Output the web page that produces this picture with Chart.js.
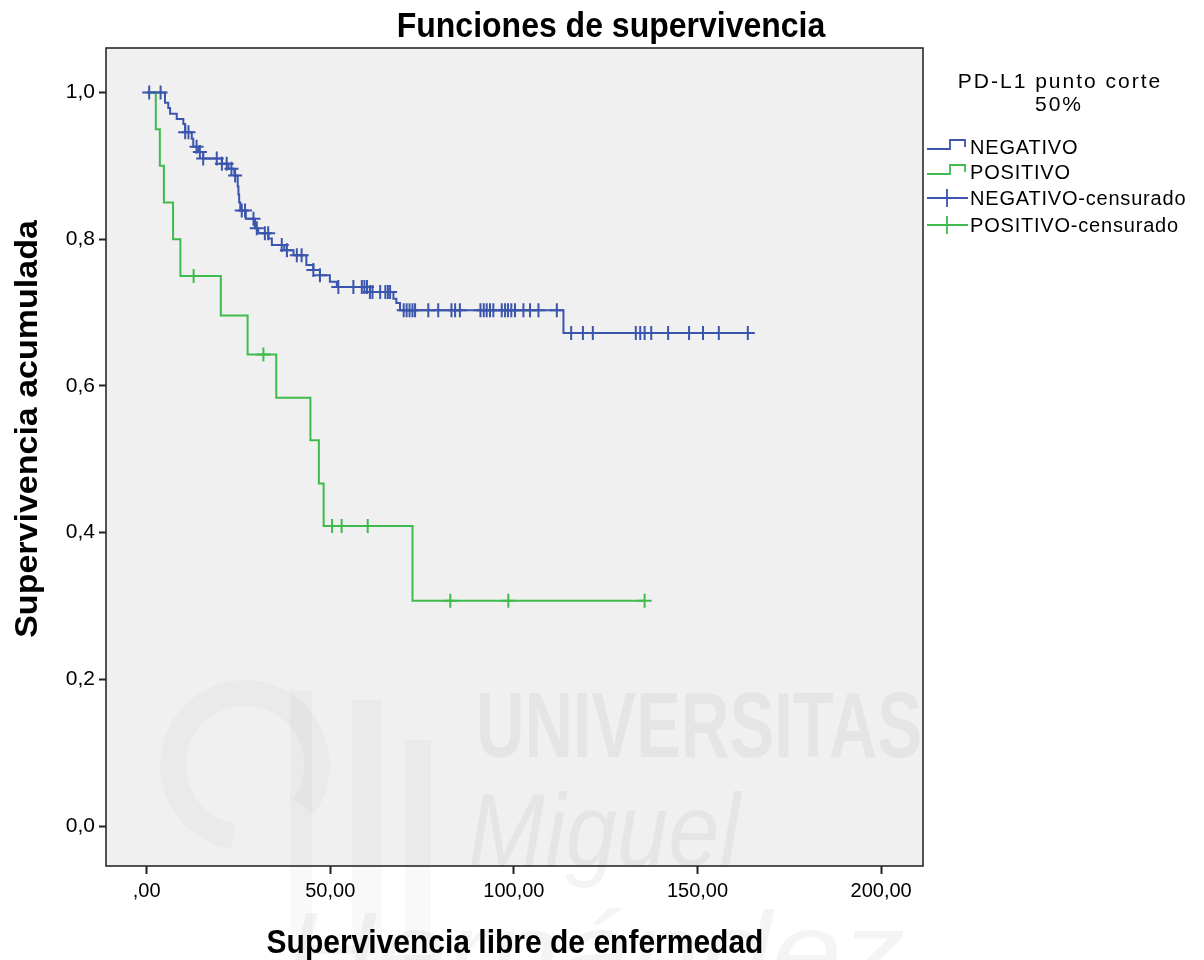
<!DOCTYPE html>
<html>
<head>
<meta charset="utf-8">
<script src="https://cdn.jsdelivr.net/npm/chart.js@4.4.1/dist/chart.umd.min.js"></script>
<style>
  html, body { margin: 0; padding: 0; background: #fff; }
  #wrap { width: 1204px; height: 960px; }
</style>
</head>
<body>
<div id="wrap"><canvas id="kmChart" width="1204" height="960"></canvas></div>
<script>
// Kaplan-Meier, grupo NEGATIVO: tiempos de evento y supervivencia tras cada evento
const negEventTimes = [5.0, 5.9, 6.4, 8.2, 10.0, 10.5, 12.3, 12.7, 14.1, 15.4, 20.5, 22.3, 23.9, 24.8, 25.0, 25.2, 25.5,
  27.0, 29.5, 30.4, 33.2, 34.1, 37.5, 40.0, 43.5, 45.4, 47.2, 49.9, 51.8, 60.8, 67.2, 68.0, 69.0, 113.5];
const negEventSurv = [0.986, 0.979, 0.971, 0.964, 0.957, 0.946, 0.937, 0.926, 0.919, 0.910, 0.903, 0.896, 0.887, 0.872, 0.861, 0.850, 0.839,
  0.828, 0.815, 0.808, 0.801, 0.792, 0.785, 0.778, 0.765, 0.758, 0.751, 0.742, 0.735, 0.728, 0.719, 0.713, 0.703, 0.672];
// casos censurados (NEGATIVO)
const negCensorTimes = [0.7, 3.8, 10.5, 11.4, 13.6, 14.5, 15.4, 19.1, 20.5, 21.8, 23.1, 24.1, 25.9, 26.8, 29.1, 30.0,
  32.2, 33.1, 36.8, 38.2, 40.9, 42.2, 45.4, 47.2, 52.2, 56.3, 58.6, 59.3, 60.0, 60.8, 61.5, 63.6, 65.0, 65.7, 66.3,
  70.0, 70.8, 71.6, 72.4, 73.1, 76.7, 79.4, 83.0, 84.0, 85.3, 90.9, 91.8, 92.6, 93.5, 94.4, 96.7, 97.6, 98.4, 99.3,
  100.3, 102.6, 104.4, 106.7, 111.7, 115.6, 118.8, 121.5, 133.2, 134.4, 135.6, 137.4, 142.0, 147.7, 151.5, 155.8, 163.7];

// grupo POSITIVO
const posEventTimes = [2.5, 3.6, 4.7, 7.2, 9.2, 20.2, 27.5, 35.3, 44.6, 46.9, 48.2, 72.4];
const posEventSurv = [0.95, 0.90, 0.85, 0.80, 0.75, 0.696, 0.643, 0.584, 0.526, 0.467, 0.409, 0.307];
const posCensorTimes = [12.8, 31.8, 50.5, 53.1, 60.2, 82.7, 98.5, 135.6];

const xTickValues = [0, 50, 100, 150, 200];
const xTickLabels = [',00', '50,00', '100,00', '150,00', '200,00'];
const yTickValues = [0, 0.2, 0.4, 0.6, 0.8, 1.0];
const yTickLabels = ['0,0', '0,2', '0,4', '0,6', '0,8', '1,0'];

const groupNames = ['NEGATIVO', 'POSITIVO'];
const BLUE = '#3b55ad';
const GREEN = '#3fbb4e';
const FONT = '"Liberation Sans", Arial, sans-serif';

// nivel de la curva en el tiempo t
function survivalAt(times, surv, t) {
    let s = 1;
    times.forEach((et, i) => { if (et <= t) s = surv[i]; });
    return s;
}

function stepPoints(times, surv, end) {
    const pts = [{ x: 0, y: 1 }];
    times.forEach((t, i) => pts.push({ x: t, y: surv[i] }));
    pts.push({ x: end, y: surv[surv.length - 1] });
    return pts;
}

function censorPoints(censors, times, surv) {
    return censors.map(t => ({ x: t, y: survivalAt(times, surv, t) }));
}

function fitText(ctx, text, x, y, width, font) {
    ctx.save();
    ctx.font = font;
    const w = ctx.measureText(text).width;
    ctx.translate(x, y);
    ctx.scale(width / w, 1);
    ctx.textAlign = 'left';
    ctx.textBaseline = 'alphabetic';
    ctx.fillText(text, 0, 0);
    ctx.restore();
}

// fondo gris del area del grafico, marca de agua y marco
const plotBackground = {
    id: 'plotBackground',
    beforeDraw(chart) {
        const { ctx, chartArea: a } = chart;
        ctx.save();
        ctx.fillStyle = '#fff';
        ctx.fillRect(0, 0, chart.width, chart.height);
        ctx.fillStyle = '#f0f0f0';
        ctx.fillRect(a.left, a.top, a.right - a.left, a.bottom - a.top);

        // marca de agua
        ctx.fillStyle = 'rgba(0,0,0,0.045)';
        fitText(ctx, 'UNIVERSITAS', 476, 757, 446, 'bold 92px ' + FONT);
        fitText(ctx, 'Miguel', 468, 866, 272, 'italic 104px ' + FONT);
        fitText(ctx, 'Hernández', 285, 990, 620, 'italic 112px ' + FONT);
        ctx.fillStyle = 'rgba(0,0,0,0.025)';
        ctx.strokeStyle = 'rgba(0,0,0,0.025)';
        ctx.lineWidth = 26;
        ctx.beginPath();
        ctx.arc(245, 765, 72, Math.PI * 0.55, Math.PI * 2.2);
        ctx.stroke();
        ctx.fillRect(290, 690, 22, 270);
        ctx.fillRect(352, 700, 30, 260);
        ctx.fillRect(405, 740, 26, 220);
        ctx.restore();
    },
    beforeDatasetsDraw(chart) {
        const { ctx, chartArea: a } = chart;
        ctx.save();
        ctx.strokeStyle = '#2a2a2a';
        ctx.lineWidth = 1.6;
        ctx.strokeRect(a.left, a.top, a.right - a.left, a.bottom - a.top);
        ctx.restore();
    }
};

// titulos y leyenda
const annotations = {
    id: 'annotations',
    afterDraw(chart) {
        const { ctx } = chart;
        ctx.save();
        ctx.fillStyle = '#000';
        ctx.textBaseline = 'alphabetic';
        ctx.textAlign = 'center';

        ctx.save();
        ctx.translate(611, 37);
        ctx.scale(1, 1.08);
        ctx.font = 'bold 32px ' + FONT;
        ctx.fillText('Funciones de supervivencia', 0, 0);
        ctx.restore();

        ctx.save();
        ctx.translate(515, 953);
        ctx.scale(1, 1.08);
        ctx.font = 'bold 30px ' + FONT;
        ctx.fillText('Supervivencia libre de enfermedad', 0, 0);
        ctx.restore();

        ctx.save();
        ctx.translate(37, 429);
        ctx.rotate(-Math.PI / 2);
        ctx.scale(1, 0.9);
        ctx.font = 'bold 34px ' + FONT;
        ctx.fillText('Supervivencia acumulada', 0, 0);
        ctx.restore();

        // leyenda
        ctx.font = '21px ' + FONT;
        ctx.letterSpacing = '2px';
        ctx.fillText('PD-L1 punto corte', 1060, 88);
        ctx.fillText('50%', 1059, 111);

        const colors = [BLUE, GREEN];
        const rows = [147, 172, 198, 225];
        const labels = [groupNames[0], groupNames[1], groupNames[0] + '-censurado', groupNames[1] + '-censurado'];
        ctx.textAlign = 'left';
        ctx.textBaseline = 'middle';
        ctx.font = '20px ' + FONT;
        ctx.letterSpacing = '0.8px';
        ctx.lineWidth = 1.8;
        rows.forEach((r, i) => {
            const c = colors[i % 2];
            ctx.strokeStyle = c;
            ctx.beginPath();
            if (i < 2) {
                ctx.moveTo(927, r + 2);
                ctx.lineTo(950, r + 2);
                ctx.lineTo(950, r - 7);
                ctx.lineTo(965, r - 7);
                ctx.lineTo(965, r);
            } else {
                ctx.moveTo(927, r);
                ctx.lineTo(968, r);
                ctx.moveTo(947, r - 9);
                ctx.lineTo(947, r + 9);
            }
            ctx.stroke();
            ctx.fillStyle = '#000';
            ctx.fillText(labels[i], 970, r + 1);
        });
        ctx.restore();
    }
};

const tickFont = { family: FONT, size: 20 };

const ctx = document.getElementById('kmChart').getContext('2d');
const kmChart = new Chart(ctx, {
    type: 'scatter',
    data: {
        datasets: [
            {
                label: groupNames[0],
                data: stepPoints(negEventTimes, negEventSurv, negCensorTimes[negCensorTimes.length - 1]),
                showLine: true,
                stepped: 'before',
                borderColor: BLUE,
                borderWidth: 2,
                pointRadius: 0,
                fill: false
            },
            {
                label: groupNames[1],
                data: stepPoints(posEventTimes, posEventSurv, posCensorTimes[posCensorTimes.length - 1]),
                showLine: true,
                stepped: 'before',
                borderColor: GREEN,
                borderWidth: 2,
                pointRadius: 0,
                fill: false
            },
            {
                label: groupNames[0] + '-censurado',
                data: censorPoints(negCensorTimes, negEventTimes, negEventSurv),
                showLine: false,
                pointStyle: 'cross',
                pointRadius: 7,
                borderColor: BLUE,
                borderWidth: 2
            },
            {
                label: groupNames[1] + '-censurado',
                data: censorPoints(posCensorTimes, posEventTimes, posEventSurv),
                showLine: false,
                pointStyle: 'cross',
                pointRadius: 7,
                borderColor: GREEN,
                borderWidth: 2
            }
        ]
    },
    options: {
        responsive: false,
        animation: false,
        devicePixelRatio: 1,
        layout: { padding: { top: 48, right: 281, left: 0, bottom: 0 } },
        plugins: {
            legend: { display: false },
            tooltip: { enabled: false },
            title: { display: false }
        },
        scales: {
            x: {
                type: 'linear',
                min: -11.06,
                max: 211.4,
                afterBuildTicks: scale => { scale.ticks = xTickValues.map(v => ({ value: v })); },
                afterFit: scale => { scale.height = 94; },
                ticks: {
                    font: tickFont,
                    color: '#000',
                    padding: 5,
                    maxRotation: 0,
                    callback: (v, i) => xTickLabels[i]
                },
                grid: { drawOnChartArea: false, drawTicks: true, tickLength: 8, tickColor: '#222', tickWidth: 2 },
                border: { display: false }
            },
            y: {
                type: 'linear',
                min: -0.0545,
                max: 1.0607,
                afterBuildTicks: scale => { scale.ticks = yTickValues.map(v => ({ value: v })); },
                afterFit: scale => { scale.width = 106; },
                ticks: {
                    font: { family: FONT, size: 21 },
                    color: '#000',
                    padding: 4,
                    callback: (v, i) => yTickLabels[i]
                },
                grid: { drawOnChartArea: false, drawTicks: true, tickLength: 7, tickColor: '#222', tickWidth: 2 },
                border: { display: false }
            }
        }
    },
    plugins: [plotBackground, annotations]
});
</script>
</body>
</html>
